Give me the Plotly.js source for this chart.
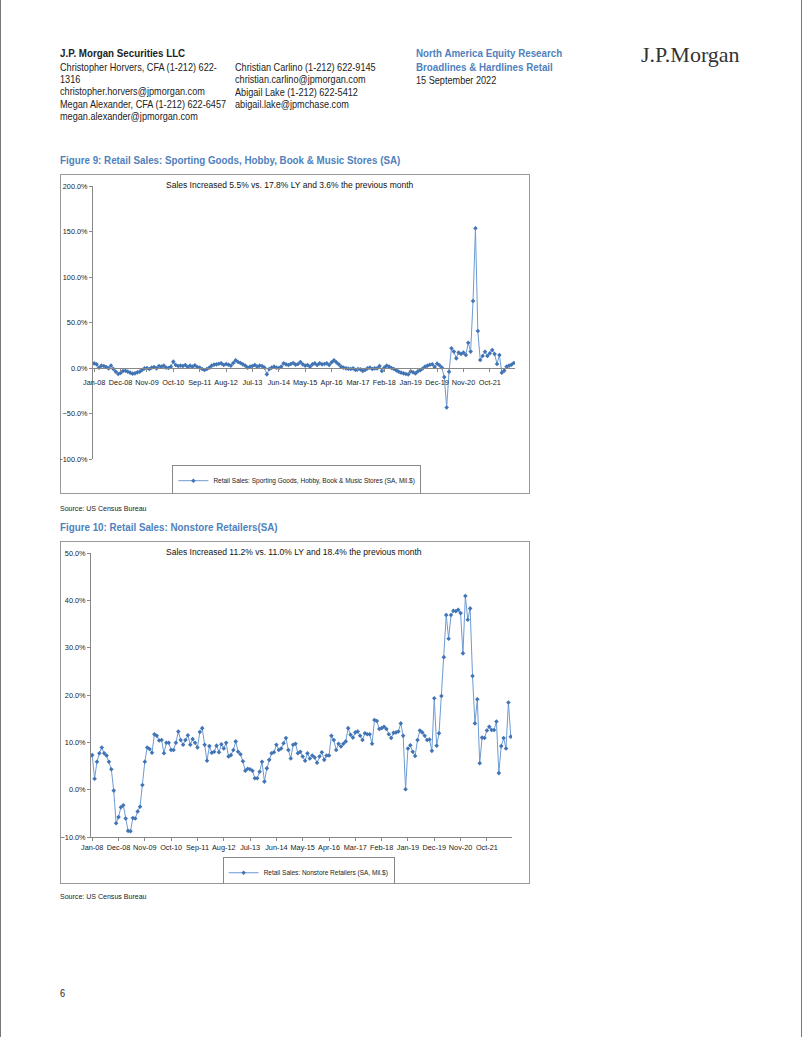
<!DOCTYPE html>
<html>
<head>
<meta charset="utf-8">
<script src="https://cdn.plot.ly/plotly-3.0.1.min.js"></script>
<style>
  body { margin: 0; width: 802px; height: 1037px; position: relative; background: #fff;
         font-family: "Liberation Sans", Arial, sans-serif; color: #222; }
  .t { position: absolute; font-size: 10.5px; line-height: 12px; white-space: nowrap;
       transform: scaleX(0.87); transform-origin: 0 50%; }
  .b { font-weight: bold; transform: scaleX(0.93); }
  .blue { color: #4f81bd; }
  .fig { position: absolute; font-size: 11px; font-weight: bold; color: #4f81bd; white-space: nowrap;
         transform: scaleX(0.89); transform-origin: 0 50%; }
  .src { position: absolute; font-size: 8px; white-space: nowrap; transform: scaleX(0.88); transform-origin: 0 50%; }
  .box { position: absolute; border: 1px solid #999; box-sizing: border-box; }
  .edge { position: absolute; top: 0; width: 1px; height: 1037px; background: #777; }
</style>
</head>
<body>
<div class="edge" style="left:0"></div>
<div class="edge" style="left:801px"></div>

<div class="t b" style="left:60px;top:47px">J.P. Morgan Securities LLC</div>
<div class="t" style="left:60px;top:61px">Christopher Horvers, CFA (1-212) 622-</div>
<div class="t" style="left:60px;top:73px">1316</div>
<div class="t" style="left:60px;top:85px">christopher.horvers@jpmorgan.com</div>
<div class="t" style="left:60px;top:98px">Megan Alexander, CFA (1-212) 622-6457</div>
<div class="t" style="left:60px;top:110px">megan.alexander@jpmorgan.com</div>
<div class="t" style="left:235px;top:61px">Christian Carlino (1-212) 622-9145</div>
<div class="t" style="left:235px;top:73px">christian.carlino@jpmorgan.com</div>
<div class="t" style="left:235px;top:86px">Abigail Lake (1-212) 622-5412</div>
<div class="t" style="left:235px;top:98px">abigail.lake@jpmchase.com</div>
<div class="t b blue" style="left:416px;top:47px">North America Equity Research</div>
<div class="t b blue" style="left:416px;top:61px">Broadlines &amp; Hardlines Retail</div>
<div class="t" style="left:416px;top:74px">15 September 2022</div>
<div style="position:absolute;left:641px;top:42px;font-family:'Liberation Serif','Times New Roman',serif;font-size:22px;color:#333;white-space:nowrap">J.P.Morgan</div>

<div class="fig" style="left:60px;top:154px">Figure 9: Retail Sales: Sporting Goods, Hobby, Book &amp; Music Stores (SA)</div>
<div class="box" style="left:60px;top:174px;width:470px;height:320px"></div>
<div id="chart1" style="position:absolute;left:60px;top:174px;width:470px;height:320px"></div>
<div class="src" style="left:60px;top:504px">Source: US Census Bureau</div>

<div class="fig" style="left:60px;top:521px">Figure 10: Retail Sales: Nonstore Retailers(SA)</div>
<div class="box" style="left:60px;top:541px;width:470px;height:343px"></div>
<div id="chart2" style="position:absolute;left:60px;top:541px;width:470px;height:343px"></div>
<div class="src" style="left:60px;top:892px">Source: US Census Bureau</div>

<div class="t" style="left:60px;top:987px">6</div>

<script>
  // month labels Jan-08 .. Aug-22
  var monNames = ['Jan', 'Feb', 'Mar', 'Apr', 'May', 'Jun', 'Jul', 'Aug', 'Sep', 'Oct', 'Nov', 'Dec'];
  var months = [];
  for (var i = 0; i < 176; i++) {
    var yr = 8 + Math.floor(i / 12);
    months.push(monNames[i % 12] + '-' + (yr < 10 ? '0' + yr : '' + yr));
  }

  var tickLabels = ['Jan-08', 'Dec-08', 'Nov-09', 'Oct-10', 'Sep-11', 'Aug-12', 'Jul-13', 'Jun-14',
                    'May-15', 'Apr-16', 'Mar-17', 'Feb-18', 'Jan-19', 'Dec-19', 'Nov-20', 'Oct-21'];

  // YoY % change, Sporting Goods, Hobby, Book & Music Stores
  var sporting = [
    5.1, 4.0, 0.4, 2.6, 2.2, 1.1, -0.4, 2.6, -1.1, -4.0,
    -6.5, -5.5, -3.3, -3.0, -4.0, -5.1, -6.2, -5.9, -4.8, -4.0,
    -2.2, -0.4, 0.0, -1.1, 0.4, 1.1, -0.4, 2.2, 1.5, 2.6,
    0.4, 0.0, 1.5, 7.0, 3.3, 2.2, 2.6, 2.2, 3.3, 1.1,
    2.6, 1.5, 3.0, 1.1, 0.4, -1.1, -2.2, -1.0, 0.4, 2.6,
    3.7, 4.0, 4.7, 5.1, 3.3, 4.4, 3.7, 2.6, 5.5, 8.4,
    6.6, 5.5, 4.0, 2.6, 0.4, 1.5, 2.2, 3.3, 1.5, 2.6,
    2.2, 0.4, -7.0, -1.1, 0.4, 1.5, 0.4, 0.0, 1.5, 5.1,
    4.0, 3.3, 4.4, 5.5, 3.7, 4.4, 6.6, 4.0, 2.6, 3.3,
    1.5, 4.0, 5.1, 3.3, 5.1, 4.0, 4.4, 5.1, 3.3, 6.2,
    8.4, 6.2, 4.0, 1.5, 0.4, -0.4, -0.7, -1.1, -0.4, -2.2,
    -1.1, -1.5, -3.3, -2.2, -0.4, 0.4, -1.1, -0.4, -0.4, 2.2,
    -3.3, 0.4, 2.6, 1.5, 0.0, -1.1, -2.6, -4.0, -5.1, -5.9,
    -6.6, -7.0, -3.7, -4.8, -5.9, -3.7, -2.5, -0.5, 1.5, 2.6,
    3.5, 4.2, 1.0, 4.8, 3.0, 0.5, -10.0, -43.5, -4.0, 21.6,
    18.0, 10.6, 16.9, 15.4, 16.9, 14.3, 27.8, 18.0, 73.6, 153.5,
    40.7, 8.8, 13.2, 17.8, 13.2, 16.1, 19.8, 15.4, 4.5, 14.3,
    -5.1, -2.9, 1.5, 2.6, 3.6, 5.5
  ];

  // YoY % change, Nonstore Retailers
  var nonstore = [
    7.3, 2.3, 5.9, 7.7, 8.9, 7.7, 7.2, 5.9, 4.3, -0.2,
    -7.1, -5.8, -3.7, -3.3, -6.1, -8.7, -8.8, -6.0, -6.1, -4.6,
    -3.6, 1.0, 5.9, 8.9, 8.6, 7.8, 11.7, 11.4, 10.4, 10.5,
    7.7, 9.9, 9.9, 8.4, 8.4, 9.9, 12.3, 10.5, 9.5, 10.5,
    11.5, 9.5, 10.7, 9.9, 8.9, 12.2, 13.0, 9.5, 6.1, 9.2,
    7.8, 8.0, 9.3, 7.9, 9.6, 8.7, 9.9, 7.0, 7.3, 8.4,
    10.2, 8.0, 7.5, 6.0, 4.0, 4.4, 4.3, 4.0, 2.4, 2.4,
    3.8, 5.9, 1.7, 4.5, 6.3, 7.7, 7.9, 9.5, 8.4, 8.7,
    9.8, 10.9, 8.4, 6.6, 9.5, 9.7, 7.7, 8.0, 7.0, 6.1,
    7.7, 6.6, 7.2, 6.8, 5.7, 7.0, 7.9, 6.3, 7.2, 7.2,
    11.4, 10.5, 8.4, 9.7, 9.1, 9.7, 10.2, 13.0, 11.6, 11.0,
    12.1, 12.3, 11.4, 10.5, 11.9, 11.7, 11.7, 9.7, 14.7, 14.5,
    12.8, 13.0, 13.3, 12.8, 11.7, 10.9, 12.0, 12.1, 12.3, 14.0,
    11.4, 0.1, 8.7, 9.4, 8.0, 7.1, 10.5, 12.5, 12.1, 11.4,
    10.5, 10.6, 8.2, 19.3, 9.3, 11.9, 19.8, 28.0, 36.9, 31.9,
    36.9, 37.8, 37.7, 38.0, 37.3, 28.8, 40.9, 35.9, 38.3, 24.0,
    14.0, 19.1, 5.6, 11.0, 10.9, 12.5, 13.3, 12.6, 12.6, 14.4,
    3.5, 9.2, 10.9, 8.7, 18.4, 11.2
  ];

  var axisFont = {family: 'Liberation Sans, Arial, sans-serif', size: 7.3, color: '#222'};

  function series(y, name) {
    return {
      x: months, y: y, type: 'scatter', mode: 'lines+markers', name: name,
      line: {color: '#6d9bd3', width: 1},
      marker: {symbol: 'diamond', size: 3.5, color: '#4174b5'}
    };
  }

  function xAxis(extra) {
    var ax = {
      type: 'category', range: [-0.5, 175.5],
      tickvals: tickLabels, ticktext: tickLabels, tickangle: 0,
      showline: true, linecolor: '#888', linewidth: 1,
      ticks: 'outside', ticklen: 3, tickcolor: '#888',
      showgrid: false, zeroline: false, tickfont: axisFont
    };
    for (var k in extra) ax[k] = extra[k];
    return ax;
  }

  function yAxis(range, dtick) {
    return {
      range: range, dtick: dtick, tickformat: '.1f', ticksuffix: '%',
      showline: true, linecolor: '#888', linewidth: 1,
      ticks: 'outside', ticklen: 3, tickcolor: '#888',
      showgrid: false, zeroline: false, tickfont: axisFont
    };
  }

  function legendAt(x, y) {
    return {orientation: 'h', xref: 'container', yref: 'container',
            x: x, xanchor: 'center', y: y, yanchor: 'top',
            bordercolor: '#888', borderwidth: 1, itemwidth: 30, tracegroupgap: 0,
            font: {family: 'Liberation Sans, Arial', size: 6.5, color: '#222'}};
  }

  var layout1 = {
    width: 470, height: 320,
    margin: {l: 33, r: 15, t: 12, b: 35},
    paper_bgcolor: 'rgba(0,0,0,0)', plot_bgcolor: 'rgba(0,0,0,0)',
    font: axisFont,
    xaxis: xAxis({anchor: 'free', position: 1 / 3, ticklabelstandoff: 4}),
    yaxis: yAxis([-100, 200], 50),
    showlegend: true,
    legend: legendAt(0.504, 0.09),
    annotations: [{
      text: 'Sales Increased 5.5% vs. 17.8% LY and 3.6% the previous month',
      xref: 'paper', yref: 'paper', x: 0.467, y: 1.004, xanchor: 'center', yanchor: 'middle',
      showarrow: false, font: {family: 'Liberation Sans, Arial', size: 8.5, color: '#111'}
    }]
  };

  var layout2 = {
    width: 470, height: 343,
    margin: {l: 31, r: 18, t: 12, b: 47},
    paper_bgcolor: 'rgba(0,0,0,0)', plot_bgcolor: 'rgba(0,0,0,0)',
    font: axisFont,
    xaxis: xAxis({}),
    yaxis: yAxis([-10, 50], 10),
    showlegend: true,
    legend: legendAt(0.529, 0.078),
    annotations: [{
      text: 'Sales Increased 11.2% vs. 11.0% LY and 18.4% the previous month',
      xref: 'paper', yref: 'paper', x: 0.482, y: 1.004, xanchor: 'center', yanchor: 'middle',
      showarrow: false, font: {family: 'Liberation Sans, Arial', size: 8.5, color: '#111'}
    }]
  };

  var cfg = {displayModeBar: false, staticPlot: true};

  Plotly.newPlot('chart1', [series(sporting, 'Retail Sales: Sporting Goods, Hobby, Book & Music Stores (SA, Mil.$)')], layout1, cfg);
  Plotly.newPlot('chart2', [series(nonstore, 'Retail Sales: Nonstore Retailers (SA, Mil.$)')], layout2, cfg);
</script>
</body>
</html>
